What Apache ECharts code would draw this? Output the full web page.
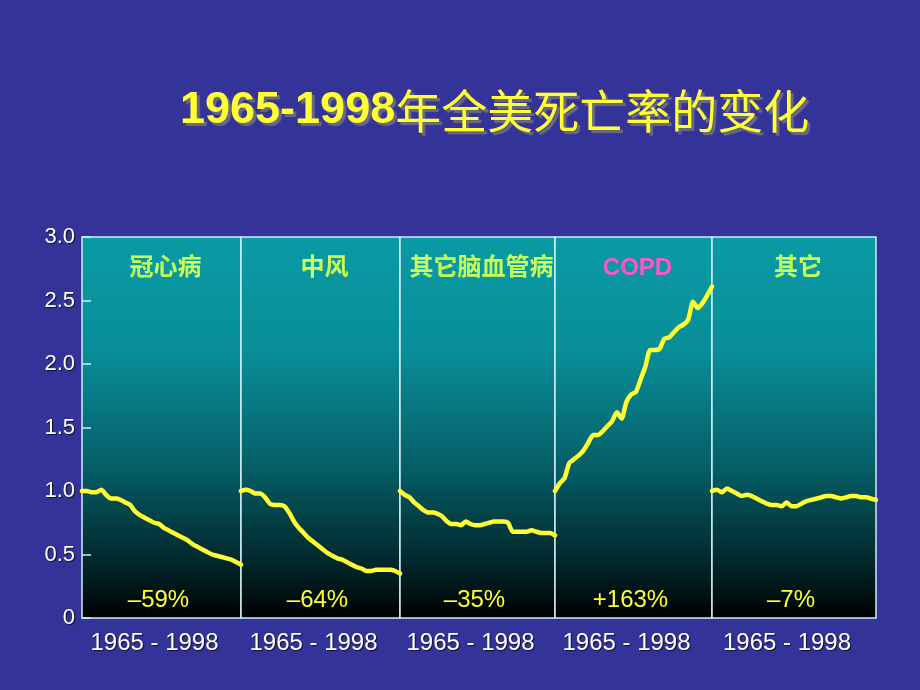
<!DOCTYPE html>
<html><head><meta charset="utf-8">
<script src="https://cdn.jsdelivr.net/npm/echarts@6/dist/echarts.min.js"></script>
<style>html,body{margin:0;padding:0;background:#333399;}#c{width:920px;height:690px;}</style>
</head><body><div id="c"></div>
<script>
const titleNum = '1965-1998';
const titleZh = '年全美死亡率的变化';
const years = ['1965','1966','1967','1968','1969','1970','1971','1972','1973','1974','1975','1976','1977','1978','1979','1980','1981','1982','1983','1984','1985','1986','1987','1988','1989','1990','1991','1992','1993','1994','1995','1996','1997','1998'];
const panelNames = ['冠心病','中风','其它脑血管病','COPD','其它'];
const panelChanges = ['\u201359%','\u201364%','\u201335%','+163%','\u20137%'];
const rangeLabel = '1965 - 1998';

const chd = [1.00,1.00,0.99,0.99,1.01,0.97,0.94,0.94,0.93,0.91,0.89,0.84,0.81,0.79,0.77,0.75,0.74,0.71,0.69,0.67,0.65,0.63,0.61,0.58,0.56,0.54,0.52,0.50,0.49,0.48,0.47,0.46,0.44,0.42];
const stroke = [1.00,1.01,1.00,0.98,0.98,0.95,0.90,0.89,0.89,0.88,0.83,0.76,0.71,0.67,0.63,0.60,0.57,0.54,0.51,0.49,0.47,0.46,0.44,0.42,0.40,0.39,0.37,0.37,0.38,0.38,0.38,0.38,0.37,0.35];
const otherCvd = [1.00,0.97,0.95,0.91,0.88,0.85,0.83,0.83,0.82,0.80,0.76,0.74,0.74,0.73,0.76,0.74,0.73,0.73,0.74,0.75,0.76,0.76,0.76,0.75,0.68,0.68,0.68,0.68,0.69,0.68,0.67,0.67,0.67,0.65];
const copd = [1.00,1.06,1.10,1.22,1.25,1.28,1.32,1.38,1.44,1.44,1.47,1.51,1.55,1.62,1.57,1.70,1.76,1.78,1.88,1.98,2.11,2.11,2.12,2.20,2.21,2.25,2.29,2.31,2.35,2.49,2.44,2.48,2.54,2.61];
const others = [1.00,1.01,0.99,1.02,1.00,0.98,0.96,0.97,0.96,0.94,0.92,0.90,0.89,0.89,0.88,0.91,0.88,0.88,0.90,0.92,0.93,0.94,0.95,0.96,0.96,0.95,0.94,0.95,0.96,0.96,0.95,0.95,0.94,0.93];
const seriesData = [chd, stroke, otherCvd, copd, others];

// layout
const edges = [82, 241, 400, 555, 712, 876];
const plotTop = 237, plotBottom = 618;

const chart = echarts.init(document.getElementById('c'), null, {renderer:'canvas'});
const bg = {type:'linear', x:0, y:0, x2:0, y2:1, colorStops:[
  {offset:0, color:'#0a9ba5'}, {offset:0.3, color:'#088e98'},
  {offset:0.6, color:'#055f67'}, {offset:0.85, color:'#02282c'}, {offset:1, color:'#000000'}]};

const shadow = {textShadowColor:'rgba(0,0,0,0.7)', textShadowOffsetX:1, textShadowOffsetY:1, textShadowBlur:1};
const grids = [], xAxes = [], yAxes = [], series = [], graphics = [];
for (let i = 0; i < 5; i++) {
  grids.push({left: edges[i], width: edges[i+1]-edges[i], top: plotTop, height: plotBottom-plotTop,
    show:true, backgroundColor: bg, borderColor:'#d0eef6', borderWidth:1.5});
  xAxes.push({gridIndex:i, type:'category', boundaryGap:false, data: years,
    axisLabel:{show:false}, axisTick:{show:false}, axisLine:{show:false}, splitLine:{show:false},
    name: rangeLabel, nameLocation:'middle', nameGap: 13,
    nameTextStyle:Object.assign({color:'#ffffff', fontSize:24, fontFamily:'Liberation Sans, Arial', padding:[0,14,0,0]}, shadow)});
  yAxes.push({gridIndex:i, type:'value', min:0, max:3, interval:0.5,
    axisLine:{show:false}, splitLine:{show:false},
    axisTick:{show: i===0, inside:true, length:9, lineStyle:{color:'#d0eef6', width:1.5}},
    axisLabel:Object.assign({show: i===0, color:'#ffffff', fontSize:22, fontFamily:'Liberation Sans, Arial', margin:7,
      formatter: v => v === 0 ? '0' : v.toFixed(1)}, shadow)});
  series.push({type:'line', xAxisIndex:i, yAxisIndex:i, data: seriesData[i], showSymbol:false,
    clip:false, smooth:0.2, lineStyle:{color:'#ffff33', width:4.5, cap:'round', join:'round'}, z:5});
  const cx = (edges[i]+edges[i+1])/2;
  graphics.push({type:'text', x: cx + 4, y: 268, z:10, style:{text: panelNames[i], align:'center', verticalAlign:'middle',
    fill: i===3 ? '#ff55cc' : '#ccff55', font: 'bold 24px "Liberation Sans", "Noto Sans CJK SC", sans-serif',
    shadowColor:'rgba(0,30,30,0.9)', shadowOffsetX:2, shadowOffsetY:2, shadowBlur:1}});
  graphics.push({type:'text', x: cx - 3, y: 600, z:10, style:{text: panelChanges[i], align:'center', verticalAlign:'middle',
    fill:'#ffff33', font:'24px "Liberation Sans", Arial, sans-serif'}});
}

const tshadow = {textShadowColor:'#6a6a80', textShadowOffsetX:3, textShadowOffsetY:3, textShadowBlur:1};
chart.setOption({
  backgroundColor:'#333399',
  animation:false,
  title:{
    text: '{a|' + titleNum + '}{b|' + titleZh + '}',
    left: 175, top: 83,
    textStyle:Object.assign({fontWeight:'normal',
      rich:{
        a:Object.assign({color:'#ffff33', fontSize:45, fontWeight:'bold', fontFamily:'Liberation Sans, Arial'}, tshadow),
        b:Object.assign({color:'#ffff33', fontSize:46, fontWeight:'normal', fontFamily:'Noto Sans CJK SC'}, tshadow)
      }
    }, tshadow)
  },
  grid: grids, xAxis: xAxes, yAxis: yAxes, series: series,
  graphic: graphics
});
</script></body></html>
